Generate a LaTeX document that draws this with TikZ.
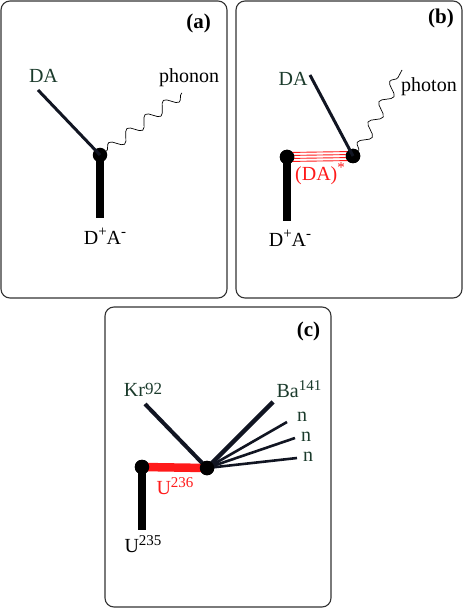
\documentclass[tikz,border=0pt]{standalone}
\usepackage{fontspec}
\setmainfont{Liberation Serif}
\usetikzlibrary{decorations.pathmorphing}
\definecolor{ink}{HTML}{111522}
\definecolor{dkgreen}{HTML}{1B3B2C}
\definecolor{boxgray}{HTML}{333333}
\definecolor{fred}{HTML}{FF1A1A}
\tikzset{
  panel/.style={draw=boxgray, line width=1.1pt, rounded corners=9pt},
  lbl/.style={font=\fontsize{20}{24}\selectfont, inner sep=0pt},
  tag/.style={font=\fontsize{21}{25}\selectfont\bfseries, inner sep=0pt},
  dot/.style={circle, fill=black, minimum size=14.5pt, inner sep=0pt},
  bar/.style={line width=8.5pt, draw=black},
  leg/.style={line width=3pt, draw=ink},
  wave/.style={draw=black, line width=0.7pt, decorate,
    decoration={snake, amplitude=5.5pt, segment length=23pt}},
}
\newcommand{\sups}[1]{\raisebox{0.38em}{\fontsize{15}{18}\selectfont #1}}
\begin{document}
\begin{tikzpicture}[x=1pt,y=-1pt]
\useasboundingbox (0,0) rectangle (463,609);
% ---------- panel (a)
\draw[panel] (1,1) rectangle (227,298);
\node[tag] (ta) at (198.5,23) {(a)};
\node[dot] (adot) at (100,155) {};
\coordinate (abot) at (100,218);
\coordinate (ada) at (38,90);
\coordinate (aph) at (182,93);
\draw[bar] (adot.center) -- (abot);
\draw[leg] (ada) -- (adot.center);
\draw[wave] (adot.30) -- (aph);
\node[lbl, text=dkgreen] (adal) at (43.5,76) {DA};
\node[lbl] (aphl) at (189,78) {phonon};
\node[lbl] (adpl) at (105,236) {D\sups{+}A\sups{-}};
% ---------- panel (b)
\draw[panel] (236,1) rectangle (462,298);
\node[tag] (tb) at (441,18) {(b)};
\node[dot] (bl) at (287,157) {};
\node[dot] (br) at (353,156) {};
\coordinate (bbot) at (287,221);
\coordinate (bda) at (310,75);
\coordinate (bph) at (402,70);
\draw[bar] (bl.center) -- (bbot);
\foreach \dy in {-4.5,-1.5,1.5,4.5}
  \draw[fred, line width=0.9pt] ([yshift=\dy pt]bl.center) -- ([yshift=\dy pt]br.center);
\node[dot] at (bl) {};
\node[dot] at (br) {};
\draw[leg] (bda) -- (br.center);
\draw[wave] (br.40) -- (bph);
\node[lbl, text=dkgreen] (bdal) at (293,79) {DA};
\node[lbl] (bphl) at (429,87) {photon};
\node[lbl, text=fred] (bexl) at (320,174) {(DA)\sups{*}};
\node[lbl] (bdpl) at (290,238) {D\sups{+}A\sups{-}};
% ---------- panel (c)
\draw[panel] (105,307) rectangle (331,607);
\node[tag] (tc) at (308.5,331) {(c)};
\node[dot] (cl) at (142,467) {};
\node[dot] (cr) at (207,468) {};
\coordinate (cbot) at (142,530);
\coordinate (ckr) at (145,404);
\coordinate (cba) at (273,402);
\coordinate (cn1) at (287,422);
\coordinate (cn2) at (295,438);
\coordinate (cn3) at (297,458);
\draw[bar] (cl.center) -- (cbot);
\draw[line width=8.5pt, draw=fred] (cl.center) -- (cr.center);
\node[dot] at (cl) {};
\draw[line width=4pt, draw=ink] (ckr) -- (cr.center);
\draw[line width=4.5pt, draw=ink] (cr.center) -- (cba);
\draw[line width=2.6pt, draw=ink] (cr.center) -- (cn1);
\draw[line width=2.6pt, draw=ink] (cr.center) -- (cn2);
\draw[line width=2.6pt, draw=ink] (cr.center) -- (cn3);
\node[dot] at (cr) {};
\node[lbl, text=dkgreen] (ckrl) at (143,390) {Kr\raisebox{0.12em}{\fontsize{17}{20}\selectfont 92}};
\node[lbl, text=dkgreen] (cbal) at (299,389) {Ba\sups{141}};
\node[lbl, text=dkgreen] (cn1l) at (302,417) {n};
\node[lbl, text=dkgreen] (cn2l) at (306,436.5) {n};
\node[lbl, text=dkgreen] (cn3l) at (308,457) {n};
\node[lbl, text=fred] (cu6l) at (175,486) {U\sups{236}};
\node[lbl] (cu5l) at (143,544) {U\sups{235}};
\end{tikzpicture}
\end{document}
